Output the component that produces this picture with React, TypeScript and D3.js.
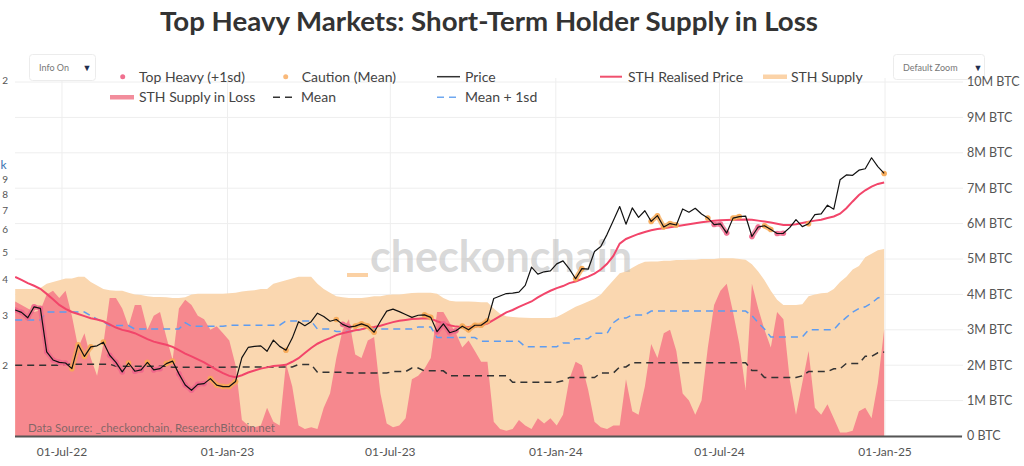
import React from "react";
import * as d3 from "d3";

// ---------- data (weekly samples starting 2022-05-10) ----------
const START_DATE = "2022-05-10";
const WEEK_STEP_DAYS = 7;

// BTC price, thousand USD
const priceK = [
  31.0, 30.4, 29.1, 31.8, 31.4, 22.1, 20.7, 20.3, 20.2, 19.3,
  23.4, 21.3, 23.0, 23.2, 23.9, 21.5, 20.3, 18.8, 20.2, 18.9,
  19.1, 20.3, 19.1, 19.3, 20.1, 20.5, 18.5, 16.9, 16.2, 17.0,
  17.1, 17.8, 16.9, 16.7, 16.7, 17.4, 21.1, 22.9, 23.1, 23.2,
  22.2, 24.3, 23.1, 22.4, 24.7, 28.2, 27.3, 28.2, 30.2, 29.4,
  28.3, 28.7, 27.6, 27.0, 27.2, 27.7, 27.2, 25.9, 28.3, 30.7,
  31.2, 30.6, 29.9, 29.2, 29.7, 29.8, 29.2, 26.0, 27.7, 25.8,
  26.2, 27.2, 26.4, 27.4, 27.4, 28.4, 34.0, 34.7, 35.4, 35.5,
  35.8, 37.8, 43.8, 41.4, 42.2, 42.5, 45.0, 46.1, 43.2, 39.9,
  43.3, 43.1, 49.7, 51.8, 57.1, 63.8, 71.5, 62.0, 70.7, 65.5,
  69.1, 63.4, 66.4, 60.6, 62.3, 61.6, 70.1, 68.3, 70.5, 67.3,
  65.2, 61.8, 62.1, 57.7, 65.1, 65.9, 66.2, 56.1, 60.6, 61.2,
  59.4, 57.5, 57.6, 60.3, 64.3, 60.8, 62.2, 67.0, 67.4, 72.3,
  70.0, 88.7, 92.3, 92.0, 95.9, 97.0, 106.0, 98.7, 93.4,
];

// STH realised price, thousand USD
const realisedK = [
  40.5, 39.5, 38.5, 37.7, 36.8, 35.3, 33.8, 32.3, 31.3, 30.5,
  30.0, 29.5, 29.0, 28.7, 28.3, 27.6, 26.9, 26.4, 26.1, 25.7,
  25.1, 24.5, 24.0, 23.7, 23.4, 23.0, 22.4, 21.8, 21.3, 20.8,
  20.3, 19.7, 19.1, 18.6, 18.2, 18.0, 18.3, 18.7, 19.0, 19.3,
  19.5, 19.7, 19.8, 19.9, 20.4, 21.0, 21.9, 22.8, 23.6, 24.2,
  24.7, 25.3, 25.7, 26.0, 26.3, 26.5, 26.9, 27.0, 27.3, 27.7,
  28.1, 28.4, 28.6, 28.8, 28.9, 29.0, 28.9, 28.3, 27.8, 27.4,
  27.1, 27.0, 27.0, 27.1, 27.4, 27.8, 28.6, 29.5, 30.4, 31.0,
  31.8, 32.5, 33.2, 34.3, 35.3, 36.2, 37.0, 37.6, 38.5, 39.0,
  39.8, 40.6, 41.6, 43.0, 45.0, 48.0, 53.0, 55.0, 56.2, 57.3,
  58.2, 59.0, 59.6, 60.0, 60.5, 61.0, 61.5, 62.0, 62.5, 63.0,
  63.4, 63.7, 64.0, 64.1, 64.2, 64.3, 64.4, 64.2, 63.8, 63.3,
  62.8, 62.2, 61.6, 61.6, 62.0, 62.6, 63.2, 63.8, 64.3, 65.2,
  66.0, 67.5, 70.5, 74.5, 78.5, 81.5, 84.0, 85.8, 86.8,
];

// STH supply, million BTC
const supplyM = [
  4.15, 4.15, 4.15, 4.15, 4.18, 4.3, 4.35, 4.4, 4.45, 4.45,
  4.5, 4.5, 4.35, 4.25, 4.15, 4.12, 4.1, 4.1, 4.05, 4.0,
  3.98, 3.95, 3.93, 3.93, 3.92, 3.9, 3.9, 3.92, 4.0, 4.02,
  4.02, 4.02, 4.02, 4.02, 4.03, 4.05, 4.08, 4.1, 4.12, 4.15,
  4.15, 4.3, 4.35, 4.4, 4.45, 4.5, 4.5, 4.5, 4.3, 4.15,
  4.05, 3.95, 3.92, 3.9, 3.9, 3.9, 3.92, 3.95, 3.95, 3.98,
  4.0, 4.0, 4.02, 4.04, 4.05, 4.05, 4.05, 4.02, 3.9, 3.82,
  3.8, 3.8, 3.8, 3.79, 3.78, 3.78, 3.6, 3.45, 3.38, 3.36,
  3.35, 3.34, 3.33, 3.33, 3.33, 3.33, 3.36, 3.45, 3.55, 3.65,
  3.72, 3.8, 3.88, 4.0, 4.2, 4.4, 4.6, 4.65, 4.75, 4.85,
  4.92, 4.93, 4.93, 4.95, 4.95, 4.97, 4.97, 4.98, 4.98, 5.0,
  5.0, 5.0, 5.02, 5.02, 5.02, 5.0, 4.98, 4.85, 4.65, 4.4,
  4.1, 3.85, 3.7, 3.7, 3.7, 3.72, 3.95, 4.0, 4.03, 4.05,
  4.15, 4.35, 4.5, 4.7, 4.8, 5.05, 5.15, 5.25, 5.28,
];

// STH supply in loss, million BTC
const lossM = [
  3.8, 3.7, 3.6, 3.5, 3.55, 4.0, 4.1, 3.9, 4.1, 3.4,
  2.5, 2.9, 2.2, 1.7, 2.6, 3.9, 3.9, 3.6, 3.1, 3.7,
  3.7, 3.0, 3.4, 3.5, 2.8, 2.15, 3.6, 3.85, 3.7, 3.4,
  3.3, 3.0, 3.1, 2.9, 2.7, 2.0, 0.45, 0.3, 0.25, 0.3,
  0.8, 0.4, 0.3, 2.05, 1.4, 0.3, 0.2, 0.25, 0.2, 0.8,
  1.2, 2.2, 3.0, 3.3, 2.3, 2.2, 2.7, 2.8, 1.2, 0.35,
  0.25, 0.3, 0.5, 1.6, 1.7, 1.9, 2.2, 3.5, 3.5, 3.2,
  2.9, 2.5, 2.7, 2.4, 2.1, 2.1, 0.4, 0.2, 0.15, 0.2,
  0.45, 0.3, 0.2, 0.5, 0.35, 0.5, 0.3, 0.6, 1.6, 2.1,
  2.0, 1.3, 0.4, 0.25, 0.2, 0.3, 0.3, 1.6, 0.7, 0.6,
  1.4, 2.6, 2.2, 2.9, 3.0, 2.4, 1.2, 1.0, 0.6, 1.0,
  2.5, 3.7, 4.1, 4.3, 3.5, 2.6, 1.3, 4.3, 3.6, 3.0,
  2.5, 3.5, 3.3, 1.6, 0.6, 1.5, 2.4, 0.8, 0.6, 0.9,
  0.5, 0.1, 0.1, 0.15, 0.7, 0.8, 0.5, 1.5, 3.0,
];

// Mean of STH supply in loss, million BTC
const meanM = [
  2.0, 2.0, 2.0, 2.0, 2.0, 2.0, 2.0, 2.0, 2.03, 2.03,
  2.03, 2.03, 2.03, 2.03, 2.03, 2.03, 1.97, 1.97, 1.97, 1.97,
  1.97, 1.97, 1.97, 1.97, 1.97, 1.94, 1.94, 1.94, 1.94, 1.94,
  1.94, 1.94, 1.94, 1.94, 1.95, 1.95, 1.95, 1.95, 1.95, 1.95,
  1.95, 1.95, 1.95, 1.95, 1.95, 2.02, 2.02, 2.02, 1.8, 1.8,
  1.8, 1.8, 1.8, 1.78, 1.78, 1.78, 1.78, 1.78, 1.78, 1.78,
  1.82, 1.82, 1.82, 1.92, 1.92, 1.84, 1.84, 1.84, 1.84, 1.7,
  1.7, 1.7, 1.7, 1.7, 1.7, 1.7, 1.7, 1.7, 1.7, 1.52,
  1.52, 1.52, 1.52, 1.52, 1.52, 1.52, 1.52, 1.56, 1.65, 1.65,
  1.65, 1.65, 1.65, 1.78, 1.78, 1.78, 1.95, 1.95, 2.07, 2.07,
  2.07, 2.07, 2.07, 2.07, 2.07, 2.07, 2.07, 2.07, 2.07, 2.07,
  2.07, 2.07, 2.07, 2.07, 2.07, 2.07, 2.07, 1.85, 1.85, 1.65,
  1.65, 1.65, 1.65, 1.65, 1.65, 1.7, 1.82, 1.82, 1.82, 1.82,
  1.9, 1.9, 2.05, 2.05, 2.05, 2.25, 2.25, 2.35, 2.37,
];

// Mean + 1 standard deviation, million BTC
const mean1sdM = [
  3.28, 3.28, 3.28, 3.28, 3.28, 3.5, 3.5, 3.5, 3.5, 3.5,
  3.5, 3.5, 3.4, 3.3, 3.22, 3.12, 3.12, 3.12, 3.12, 3.02,
  3.02, 3.02, 3.02, 3.02, 3.02, 3.02, 3.02, 3.2, 3.1, 3.1,
  3.1, 3.1, 3.1, 3.1, 3.13, 3.13, 3.13, 3.13, 3.13, 3.13,
  3.13, 3.13, 3.13, 3.25, 3.25, 3.25, 3.25, 3.25, 3.02, 3.02,
  3.02, 2.95, 2.95, 2.95, 2.95, 3.02, 3.02, 3.02, 3.02, 3.02,
  3.02, 3.02, 3.02, 3.02, 3.08, 3.08, 3.08, 2.78, 2.78, 2.78,
  2.78, 2.78, 2.78, 2.78, 2.68, 2.68, 2.68, 2.68, 2.68, 2.68,
  2.68, 2.52, 2.52, 2.52, 2.52, 2.52, 2.52, 2.63, 2.63, 2.75,
  2.75, 2.75, 2.9, 2.9, 2.9, 3.2, 3.33, 3.33, 3.42, 3.42,
  3.42, 3.53, 3.53, 3.53, 3.53, 3.53, 3.53, 3.53, 3.53, 3.53,
  3.53, 3.53, 3.53, 3.53, 3.53, 3.53, 3.53, 3.4, 3.2, 3.02,
  2.8, 2.8, 2.8, 2.8, 2.8, 2.8, 3.0, 3.0, 3.0, 3.0,
  3.0, 3.2, 3.35, 3.5, 3.6, 3.65, 3.75, 3.9, 3.95,
];

const xTickLabels = ["2022-07-01", "2023-01-01", "2023-07-01", "2024-01-01", "2024-07-01", "2025-01-01"];
const rightTicksM = [0, 1, 2, 3, 4, 5, 6, 7, 8, 9, 10];
const leftTickPrices = [20000, 30000, 40000, 50000, 60000, 70000, 80000, 90000, 100000, 200000];
// visible part of each left-axis label (the page edge cuts the rest)
const leftTickText = ["2", "3", "4", "5", "6", "7", "8", "9", "k", "2"];

// ---------- layout ----------
const W = 1024;
const H = 466;
const PLOT_L = 15;
const PLOT_R = 961;
const PLOT_B = 436;
const PLOT_T = 82;

const FONT = "Lato, 'Open Sans', sans-serif";

const parseDay = d3.utcParse("%Y-%m-%d");
const startDate = parseDay(START_DATE) as Date;
const dates = priceK.map((_, i) => d3.utcDay.offset(startDate, i * WEEK_STEP_DAYS));

const x = d3
  .scaleUtc()
  .domain([parseDay("2022-05-10") as Date, parseDay("2025-03-25") as Date])
  .range([15.2, 959.7]);
const yR = d3.scaleLinear().domain([0, 10]).range([PLOT_B, PLOT_T]);
const yL = d3.scaleLog().domain([11200, 195500]).range([PLOT_B, PLOT_T]);

const idx = d3.range(priceK.length);
const topHeavy = idx.map((i) => lossM[i] > mean1sdM[i]);
const caution = idx.map((i) => lossM[i] > meanM[i] && !topHeavy[i]);

const areaR = (vals: number[]) =>
  d3
    .area<number>()
    .x((i) => x(dates[i]))
    .y0(yR(0))
    .y1((i) => yR(vals[i]))(idx) as string;

const lineR = (vals: number[]) =>
  d3
    .line<number>()
    .x((i) => x(dates[i]))
    .y((i) => yR(vals[i]))(idx) as string;

const lineL = (valsK: number[], def?: (i: number) => boolean) => {
  const l = d3
    .line<number>()
    .x((i) => x(dates[i]))
    .y((i) => yL(valsK[i] * 1000));
  if (def) l.defined((i) => def(i));
  return l(idx) as string;
};

const fmtX = d3.utcFormat("%d-%b-%y");

export default function App() {
  const legendText = { fontFamily: FONT, fontSize: 14, fill: "#444" } as const;
  return (
    <div style={{ position: "absolute", left: 0, top: 0, width: W, height: H }}>
      <svg width={W} height={H} viewBox={`0 0 ${W} ${H}`} style={{ display: "block", background: "#fff" }}>
        <defs>
          <clipPath id="plotclip">
            <rect x={PLOT_L} y={60} width={PLOT_R - PLOT_L} height={PLOT_B - 60} />
          </clipPath>
        </defs>

        {/* title */}
        <text
          x={489}
          y={31}
          textAnchor="middle"
          fontFamily={FONT}
          fontWeight={700}
          fontSize={27}
          fill="#333"
          textLength={658}
          lengthAdjust="spacingAndGlyphs"
        >
          Top Heavy Markets: Short-Term Holder Supply in Loss
        </text>

        {/* grid */}
        {rightTicksM.map((t) => (
          <line key={"hg" + t} x1={PLOT_L} x2={963} y1={yR(t)} y2={yR(t)} stroke="#eeeeee" strokeWidth={1} />
        ))}
        {xTickLabels.map((d) => {
          const xx = x(parseDay(d) as Date);
          return <line key={"vg" + d} x1={xx} x2={xx} y1={78} y2={PLOT_B} stroke="#eeeeee" strokeWidth={1} />;
        })}

        <g clipPath="url(#plotclip)">
          {/* areas */}
          <path d={areaR(supplyM)} fill="#fad7b0" />
          <path d={areaR(lossM)} fill="#f6888e" />

          {/* watermark */}
          <text
            x={501}
            y={272}
            textAnchor="middle"
            fontFamily={FONT}
            fontWeight={700}
            fontSize={44}
            fill="#b8b8b8"
            fillOpacity={0.55}
            textLength={262}
            lengthAdjust="spacingAndGlyphs"
          >
            checkonchain
          </text>
          <rect x={347} y={273} width={21} height={4} fill="#fbd1a4" />

          {/* mean lines */}
          <path d={lineR(meanM)} fill="none" stroke="#333" strokeWidth={1.5} strokeDasharray="7,5" />
          <path d={lineR(mean1sdM)} fill="none" stroke="#5e9cf0" strokeWidth={1.5} strokeDasharray="7,5" />

          {/* realised price */}
          <path d={lineL(realisedK)} fill="none" stroke="#f2456a" strokeWidth={2} />

          {/* caution / top heavy highlights */}
          <path
            d={lineL(priceK, (i) => caution[i])}
            fill="none"
            stroke="#f7a955"
            strokeOpacity={0.75}
            strokeWidth={5}
            strokeLinecap="round"
            strokeLinejoin="round"
          />
          <path
            d={lineL(priceK, (i) => topHeavy[i])}
            fill="none"
            stroke="#f0678c"
            strokeOpacity={0.7}
            strokeWidth={5}
            strokeLinecap="round"
            strokeLinejoin="round"
          />
          {idx
            .filter((i) => caution[i])
            .map((i) => (
              <circle key={"c" + i} cx={x(dates[i])} cy={yL(priceK[i] * 1000)} r={2.8} fill="#f7a955" fillOpacity={0.8} />
            ))}
          {idx
            .filter((i) => topHeavy[i])
            .map((i) => (
              <circle key={"t" + i} cx={x(dates[i])} cy={yL(priceK[i] * 1000)} r={2.8} fill="#f0678c" fillOpacity={0.8} />
            ))}

          {/* price */}
          <path d={lineL(priceK)} fill="none" stroke="#111" strokeWidth={1.2} strokeLinejoin="round" />
        </g>

        {/* data source */}
        <text x={28} y={432} fontFamily={FONT} fontSize={11.5} fill="#6d6060" fillOpacity={0.85}>
          Data Source: _checkonchain, ResearchBitcoin.net
        </text>

        {/* bottom axis line */}
        <line x1={PLOT_L} x2={962} y1={PLOT_B + 0.5} y2={PLOT_B + 0.5} stroke="#555" strokeWidth={2} />

        {/* x labels */}
        {xTickLabels.map((d) => {
          const dt = parseDay(d) as Date;
          return (
            <text key={"xl" + d} x={x(dt)} y={456} textAnchor="middle" fontFamily={FONT} fontSize={12} fill="#555">
              {fmtX(dt)}
            </text>
          );
        })}

        {/* dropdown boxes */}
        <rect x={29.5} y={54.5} width={66} height={26} rx={3} fill="#fff" stroke="#ececec" />
        <text x={39} y={71} fontFamily={FONT} fontSize={9} fill="#777">
          Info On
        </text>
        <text x={87} y={71} textAnchor="middle" fontFamily={FONT} fontSize={9} fill="#1f2d4d">
          ▼
        </text>
        <rect x={893.5} y={54.5} width={91} height={25} rx={3} fill="#fff" stroke="#ececec" />
        <text x={903} y={71} fontFamily={FONT} fontSize={9} fill="#777">
          Default Zoom
        </text>
        <text x={978} y={71} textAnchor="middle" fontFamily={FONT} fontSize={9} fill="#1f2d4d">
          ▼
        </text>

        {/* right axis labels */}
        {rightTicksM.map((t) => (
          <text
            key={"rl" + t}
            x={967}
            y={yR(t)}
            dy="0.35em"
            fontFamily={FONT}
            fontSize={12.5}
            fill="#555"
          >
            {t === 0 ? "0 BTC" : `${t}M BTC`}
          </text>
        ))}

        {/* left axis labels (page edge cuts them) */}
        {leftTickPrices.map((p, k) => {
          const isMajor = leftTickText[k] === "k";
          return (
            <text
              key={"ll" + k}
              x={isMajor ? 0.5 : 8}
              y={yL(p)}
              dy={isMajor ? "0.3em" : "0.5em"}
              textAnchor={isMajor ? "start" : "end"}
              fontFamily={FONT}
              fontSize={isMajor ? 12 : 10}
              fill={isMajor ? "#3a70b0" : "#555"}
            >
              {leftTickText[k]}
            </text>
          );
        })}

        {/* legend row 1 */}
        <circle cx={122.7} cy={76.7} r={2.5} fill="#f0708f" />
        <text x={139} y={76.7} dy="0.35em" {...legendText}>Top Heavy (+1sd)</text>
        <circle cx={285.7} cy={76.7} r={2.5} fill="#f9b97a" />
        <text x={301.7} y={76.7} dy="0.35em" {...legendText}>Caution (Mean)</text>
        <line x1={437} x2={460} y1={76.7} y2={76.7} stroke="#333" strokeWidth={1.5} />
        <text x={465} y={76.7} dy="0.35em" {...legendText}>Price</text>
        <line x1={600} x2={622} y1={76.7} y2={76.7} stroke="#f0506e" strokeWidth={2} />
        <text x={628} y={76.7} dy="0.35em" {...legendText}>STH Realised Price</text>
        <rect x={763} y={74.5} width={24} height={4.5} fill="#fbd3a8" />
        <text x={791} y={76.7} dy="0.35em" {...legendText}>STH Supply</text>

        {/* legend row 2 */}
        <rect x={110} y={95} width={24} height={4.5} fill="#f28d9c" />
        <text x={139} y={97.3} dy="0.35em" {...legendText}>STH Supply in Loss</text>
        <line x1={273} x2={295} y1={97.3} y2={97.3} stroke="#333" strokeWidth={1.5} strokeDasharray="7,5" />
        <text x={301} y={97.3} dy="0.35em" {...legendText}>Mean</text>
        <line x1={437} x2={459} y1={97.3} y2={97.3} stroke="#6fa8f0" strokeWidth={1.5} strokeDasharray="7,5" />
        <text x={465} y={97.3} dy="0.35em" {...legendText}>Mean + 1sd</text>
      </svg>
    </div>
  );
}
